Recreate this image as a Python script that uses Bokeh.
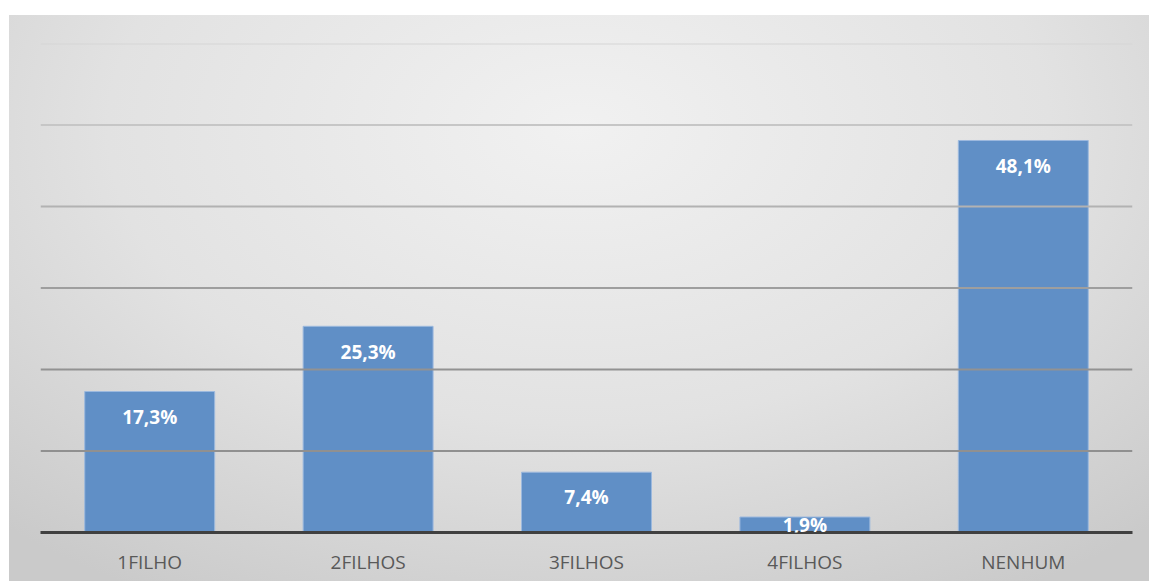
from bokeh.plotting import figure
from bokeh.models import ColumnDataSource, Span, Range1d, LabelSet
from bokeh.core.properties import value
from bokeh.embed import file_html
from bokeh.resources import INLINE

categories = ["1FILHO", "2FILHOS", "3FILHOS", "4FILHOS", "NENHUM"]
values = [17.3, 25.3, 7.4, 1.9, 48.1]
labels = ["17,3%", "25,3%", "7,4%", "1,9%", "48,1%"]
grid_levels = [10, 20, 30, 40, 50, 60]

label_y = [v - 3.1 if v > 5 else v / 2 for v in values]

src = ColumnDataSource(dict(cat=categories, val=values, lab=labels, ly=label_y))

p = figure(x_range=categories, y_range=Range1d(0, 60), width=1140, height=566,
           output_backend="svg", toolbar_location=None,
           min_border_left=31, min_border_right=17, min_border_top=28, min_border_bottom=49)
p.styles = {"margin-left": "9px", "margin-top": "15px",
            "background": "radial-gradient(ellipse 75% 95% at 50% 20%, #f1f1f1 0%, #e2e2e2 55%, #cacaca 100%)"}
p.border_fill_alpha = 0
p.background_fill_alpha = 0
p.outline_line_color = None

grid_colors = ["#909090", "#929292", "#9e9e9e", "#b2b2b2", "#c6c6c6", "#d6d6d6"]
for lvl, c in zip(grid_levels, grid_colors):
    p.add_layout(Span(location=lvl, dimension="width", line_color=c, line_width=2))

p.xgrid.visible = False
p.ygrid.visible = False

p.vbar(x="cat", top="val", width=0.595, source=src, fill_color="#608fc6",
       line_color="#9cb9de", line_width=1)

p.yaxis.visible = False
p.xaxis.axis_line_color = "#404040"
p.xaxis.axis_line_width = 3
p.xaxis.major_tick_line_color = None
p.xaxis.minor_tick_line_color = None
p.xaxis.major_tick_out = 0
p.xaxis.major_tick_in = 0
p.xaxis.major_label_text_font = "Open Sans"
p.xaxis.major_label_text_font_size = "19px"
p.xaxis.major_label_text_color = "#595959"
p.xaxis.major_label_standoff = 16

p.add_layout(LabelSet(x="cat", y="ly", text="lab", source=src, text_align="center",
                      text_baseline="middle", text_color="white", text_font=value("Open Sans"),
                      text_font_size="19px", text_font_style="bold", level="overlay"))

open("out.html", "w").write(file_html(p, INLINE))
